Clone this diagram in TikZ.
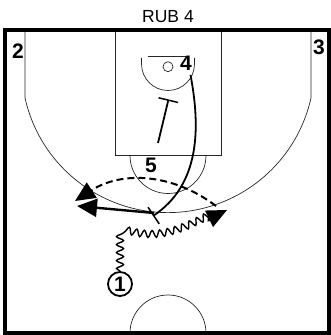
\documentclass[tikz,border=0pt]{standalone}
\usepackage{fontspec}
\setmainfont{Liberation Sans}
\usetikzlibrary{arrows.meta,decorations.pathmorphing}

\begin{document}
\begin{tikzpicture}[x=1pt, y=1pt,
    court/.style={draw=black!85, line width=0.7pt},
    border/.style={draw, line width=3.5pt},
    title/.style={font=\fontsize{17.5}{17.5}\selectfont, inner sep=0pt},
    num/.style={font=\fontsize{21}{21}\selectfont\bfseries, inner sep=0pt},
    move/.style={line width=2.4pt, -{Triangle[length=20pt, width=18pt]}},
    screen/.style={line width=1.8pt, -{Bar[width=20pt, line width=1.5pt]}},
    pass/.style={line width=2pt, dash pattern=on 7pt off 4pt, -{Triangle[length=20pt, width=18pt]}},
    dribble/.style={line width=1.4pt, decorate, decoration={snake, amplitude=3.5pt, segment length=8pt, post length=18pt}, -{Triangle[length=20pt, width=18pt]}},
]
\useasboundingbox (0,0) rectangle (331,335);

% court
\draw[court] (115,305) rectangle (221,179.5);
\draw[court] (130,179.5) arc[start angle=180, end angle=360, radius=38];
\draw[court] (141.5,277) -- (141.5,271) arc[start angle=180, end angle=360, radius=26.5] -- (194.5,277);
\draw[court] (148,279) -- (186,279);
\draw[court] (168,268.3) circle[radius=5];
\draw[court] (25,305) -- (25,237.2) arc[start angle=192.5, end angle=347.5, radius=146.5] -- (311,305);
\draw[court] (206,2) arc[start angle=0, end angle=180, radius=38];
\draw[border] (5,2) rectangle (329,305);

\node[title] (ttl) at (168,318.5) {RUB 4};

% players
\node[num] (p2) at (18,284) {2};
\node[num] (p3) at (319,288) {3};
\node[num] (p4) at (186,271.7) {4};
\node[num] (p5) at (151,170) {5};
\node[num, draw, circle, line width=1.8pt, minimum size=24pt] (p1) at (120,51) {1};

\coordinate (s4) at (190.5,260);
\coordinate (scr4) at (153,119);
\coordinate (pop4) at (77,129);
\coordinate (s5) at (158,192);
\coordinate (scr5) at (168.5,235.6);
\coordinate (turn) at (120,100);
\coordinate (drb) at (227,125);
\coordinate (pfrom) at (216,129);
\coordinate (pto) at (75,134);

% actions
\draw[screen] (s5) -- (scr5);
\draw[screen] (s4) .. controls (201,205) and (199,150) .. (scr4);
\draw[move] (154,122) -- (pop4);
\draw[pass] (pfrom) to[bend right=35] (pto);
\draw[dribble] (p1) -- (turn) to[out=-20, in=205] (drb);
\end{tikzpicture}
\end{document}
